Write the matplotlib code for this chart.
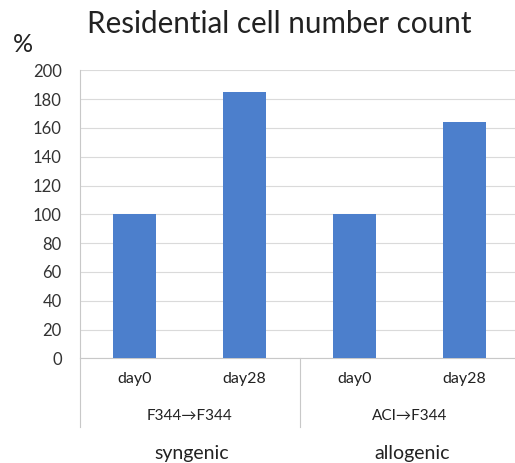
import matplotlib
matplotlib.use("Agg")
import matplotlib.pyplot as plt
import numpy as np

# data
days = ["day0", "day28", "day0", "day28"]
values = [100, 185, 100, 164]
strains = ["F344\u2192F344", "ACI\u2192F344"]
groups = ["syngenic", "allogenic"]
yticks = list(range(0, 201, 20))

plt.rcParams["font.family"] = ["Lato", "DejaVu Sans"]

W, H = 515, 463
fig = plt.figure(figsize=(W / 100, H / 100), dpi=100)
fig.patch.set_facecolor("white")

left, right, top, bottom = 79.7, 519.7, 70.3, 358.3
ax = fig.add_axes([left / W, 1 - bottom / H, (right - left) / W, (bottom - top) / H])

x = np.arange(len(values))
ax.bar(x, values, width=0.39, color="#4C7FCC", zorder=3)

ax.set_xlim(-0.5, len(values) - 0.5)
ax.set_ylim(0, 200)
ax.set_yticks(yticks)
ax.set_yticklabels([str(v) for v in yticks], fontsize=12, color="#333333")
ax.yaxis.grid(True, color="#dadada", linewidth=0.8, zorder=0)
ax.tick_params(axis="y", length=0, pad=13)
ax.tick_params(axis="x", length=0, pad=10)
ax.set_xticks(x)
ax.set_xticklabels(days, fontsize=11.5, color="#222222")

for s in ["top", "right"]:
    ax.spines[s].set_visible(False)
for s in ["left", "bottom"]:
    ax.spines[s].set_color("#c8c8c8")
    ax.spines[s].set_linewidth(0.8)

# category separators below the axis
trans = ax.get_xaxis_transform()
ext = -(427 - bottom) / (bottom - top)
for xx in [-0.5, 1.5]:
    ax.plot([xx, xx], [0, ext], transform=trans, color="#c8c8c8",
            linewidth=0.8, clip_on=False)

# strain labels and group labels
for i, (st, g) in enumerate(zip(strains, groups)):
    cx = 2 * i + 0.5
    ax.text(cx, -(416 - bottom) / (bottom - top), st, transform=trans,
            ha="center", va="center", fontsize=11, color="#222222")
    ax.text(cx + 0.02, -(453 - bottom) / (bottom - top), g, transform=trans,
            ha="center", va="center", fontsize=14, color="#222222")

fig.text(279 / W, 1 - 24 / H, "Residential cell number count",
         ha="center", va="center", fontsize=21.3, color="#222222")
fig.text(23 / W, 1 - 44 / H, "%", ha="center", va="center",
         fontsize=18, color="#222222")

fig.savefig("out.png", dpi=100)
